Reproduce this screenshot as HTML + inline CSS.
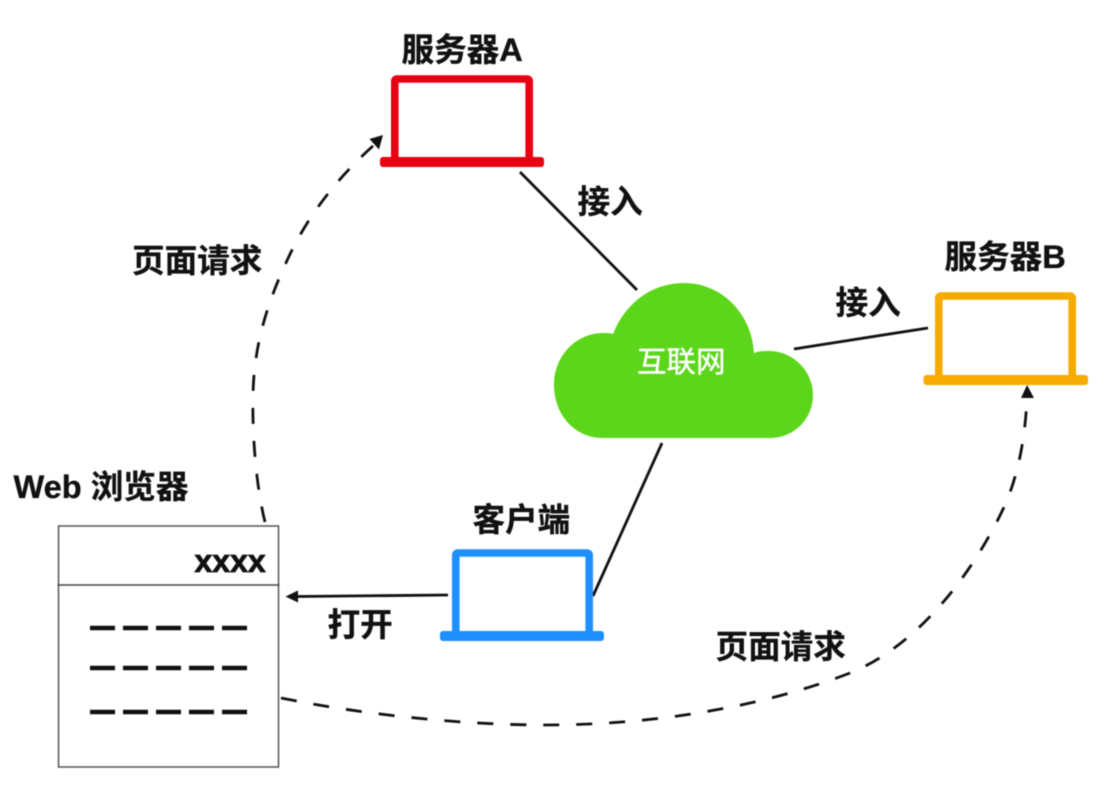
<!DOCTYPE html>
<html lang="zh">
<head>
<meta charset="utf-8">
<title>Diagram</title>
<style>
html,body{margin:0;padding:0;background:#fff;width:1115px;height:805px;overflow:hidden}
svg{display:block;filter:blur(.5px)}
text{font-family:"Liberation Sans","Noto Sans CJK SC",sans-serif;font-weight:700;font-size:32.6px;fill:#111;stroke:#111;stroke-width:.35px}
</style>
</head>
<body>
<svg width="1115" height="805" viewBox="0 0 1115 805" xmlns="http://www.w3.org/2000/svg">
<rect width="1115" height="805" fill="#fff"/>

<!-- connectors -->
<g fill="none" stroke="#111" stroke-width="2.8">
<line x1="520" y1="172" x2="637" y2="290"/>
<line x1="794" y1="349" x2="928" y2="328"/>
<line x1="593" y1="596" x2="662" y2="443"/>
<line x1="448" y1="595" x2="296" y2="596.5"/>
</g>
<polygon points="285.5,596.5 298,590.5 298,602.5" fill="#111"/>

<!-- dashed curves -->
<g fill="none" stroke="#111" stroke-width="2.8" stroke-dasharray="16 17">
<path d="M265 522 C257 490 252 440 253 395 C254 340 270 295 293 248 C310 215 335 180 374 145"/>
<path d="M281 698 C360 714 460 725 545 725 C650 725 760 708 850 673 C920 645 975 570 1005 505 C1018 475 1025 440 1027 398"/>
</g>
<polygon points="383,135 369.5,139 379,149.5" fill="#111"/>
<polygon points="1027,385 1021,398 1034,398" fill="#111"/>

<!-- laptop A -->
<rect x="394.8" y="79" width="134.4" height="82" rx="2" fill="#fff" stroke="#e60012" stroke-width="7.6"/>
<rect x="380" y="157" width="164" height="10" rx="3" fill="#e60012"/>

<!-- laptop B -->
<rect x="938.8" y="296" width="133.4" height="83" rx="2" fill="#fff" stroke="#f5ab00" stroke-width="7.6"/>
<rect x="923.5" y="375" width="164.5" height="10" rx="3" fill="#f5ab00"/>

<!-- laptop client -->
<rect x="455.8" y="553" width="133.4" height="82" rx="2" fill="#fff" stroke="#1e90ff" stroke-width="7.6"/>
<rect x="440" y="631" width="164" height="10" rx="3" fill="#1e90ff"/>

<!-- cloud -->
<path d="M603 438 C574 438 554 414 554 385 C554 355 577 333 603 333 C607 333 610 333 613 334 C625 303 652 283 684 283 C722 283 752 314 754 353 C759 351 764 351 769 351 C793 351 813 371 813 395 C813 419 794 438 770 438 Z" fill="#5cd61a"/>
<text x="637" y="372" style="font-size:29.5px;font-weight:400;fill:#fff;stroke:#fff;stroke-width:.4px">互联网</text>

<!-- browser -->
<rect x="58.5" y="526" width="220" height="241" fill="#fff" stroke="#555" stroke-width="1.5"/>
<line x1="57.5" y1="585" x2="279.5" y2="585" stroke="#444" stroke-width="1.5"/>
<g stroke="#111" stroke-width="4.4" fill="none">
<path d="M90 628h25M123 628h25M156 628h25M189 628h25M222 628h25"/>
<path d="M90 668h25M123 668h25M156 668h25M189 668h25M222 668h25"/>
<path d="M90 712h25M123 712h25M156 712h25M189 712h25M222 712h25"/>
</g>
<text x="194.5" y="572" style="font-size:32px;stroke-width:.8px">xxxx</text>

<!-- labels -->
<text x="401.5" y="61">服务器A</text>
<text x="944.5" y="268">服务器B</text>
<text x="577.5" y="213">接入</text>
<text x="835.5" y="314">接入</text>
<text x="132" y="272">页面请求</text>
<text x="715.5" y="658">页面请求</text>
<text x="13.5" y="498">Web 浏览器</text>
<text x="472.5" y="531">客户端</text>
<text x="327.5" y="636">打开</text>
</svg>
</body>
</html>
